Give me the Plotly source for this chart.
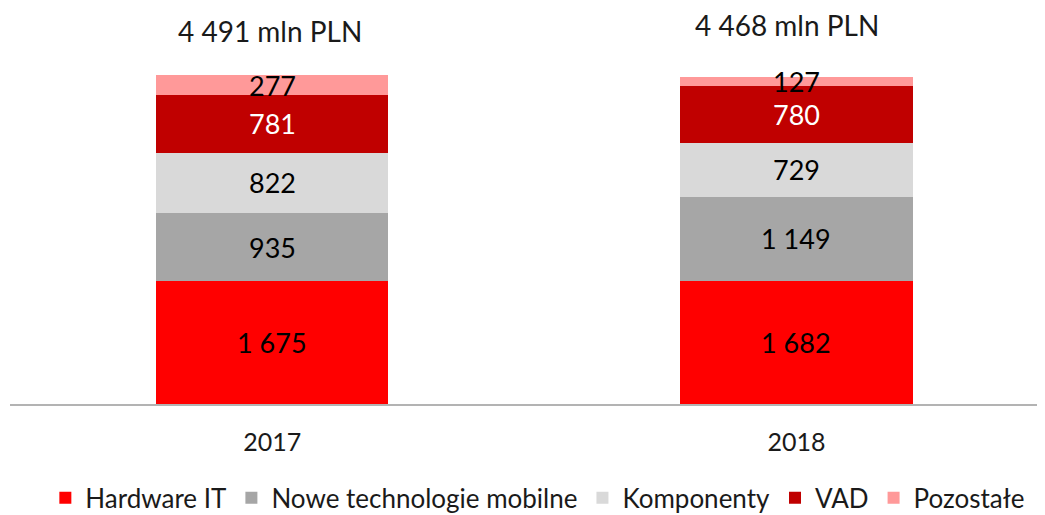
import plotly.graph_objects as go

years = ["2017", "2018"]
series_names = ["Hardware IT", "Nowe technologie mobilne", "Komponenty", "VAD", "Pozostałe"]
hardware_it = [1675, 1682]
nowe_tech = [935, 1149]
komponenty = [822, 729]
vad = [781, 780]
pozostale = [277, 127]
totals = [4491, 4468]
value_labels = {
    "Hardware IT": ["1 675", "1 682"],
    "Nowe technologie mobilne": ["935", "1 149"],
    "Komponenty": ["822", "729"],
    "VAD": ["781", "780"],
    "Pozostałe": ["277", "127"],
}
total_labels = ["4 491 mln PLN", "4 468 mln PLN"]

colors = ["#FF0000", "#A6A6A6", "#D9D9D9", "#C00000", "#FF9999"]
label_colors = ["#000000", "#000000", "#000000", "#FFFFFF", "#000000"]
FONT = "Lato, Open Sans, sans-serif"

series_values = [hardware_it, nowe_tech, komponenty, vad, pozostale]

fig = go.Figure()
annotations = []
base = [0, 0]
for name, vals, col, lc in zip(series_names, series_values, colors, label_colors):
    fig.add_trace(go.Bar(
        x=years, y=vals, name=name, marker=dict(color=col, line=dict(width=0)),
        width=0.443, hoverinfo="skip",
    ))
    for i, v in enumerate(vals):
        annotations.append(dict(
            x=i, y=base[i] + v / 2, text=value_labels[name][i],
            showarrow=False, xref="x", yref="y",
            font=dict(family=FONT, size=27, color=lc),
        ))
        base[i] += v

shifts = [(-2, 44), (-9, 52)]
for i, t in enumerate(total_labels):
    annotations.append(dict(
        x=i, y=totals[i], text=t, showarrow=False, xref="x", yref="y",
        xshift=shifts[i][0], yshift=shifts[i][1],
        font=dict(family=FONT, size=28, color="#1a1a1a"),
    ))

fig.update_layout(
    barmode="stack",
    width=1037, height=507,
    margin=dict(l=2, r=0, t=0, b=111, autoexpand=False),
    plot_bgcolor="white", paper_bgcolor="white",
    annotations=annotations,
    showlegend=True,
    legend=dict(
        orientation="h", x=0.51, xanchor="center", y=-0.237, yanchor="middle",
        font=dict(family=FONT, size=26, color="#1a1a1a"),
        traceorder="normal", itemwidth=30, tracegroupgap=0,
    ),
    xaxis=dict(
        type="category",
        range=[-0.5, 1.474], showgrid=False, showline=True, linecolor="#B3B3B3",
        linewidth=1.5, ticks="", tickfont=dict(family=FONT, size=25, color="#1a1a1a"),
        ticklabelstandoff=15,
    ),
    yaxis=dict(range=[0, 5405], visible=False, showgrid=False),
)

fig.write_html("out.html")
